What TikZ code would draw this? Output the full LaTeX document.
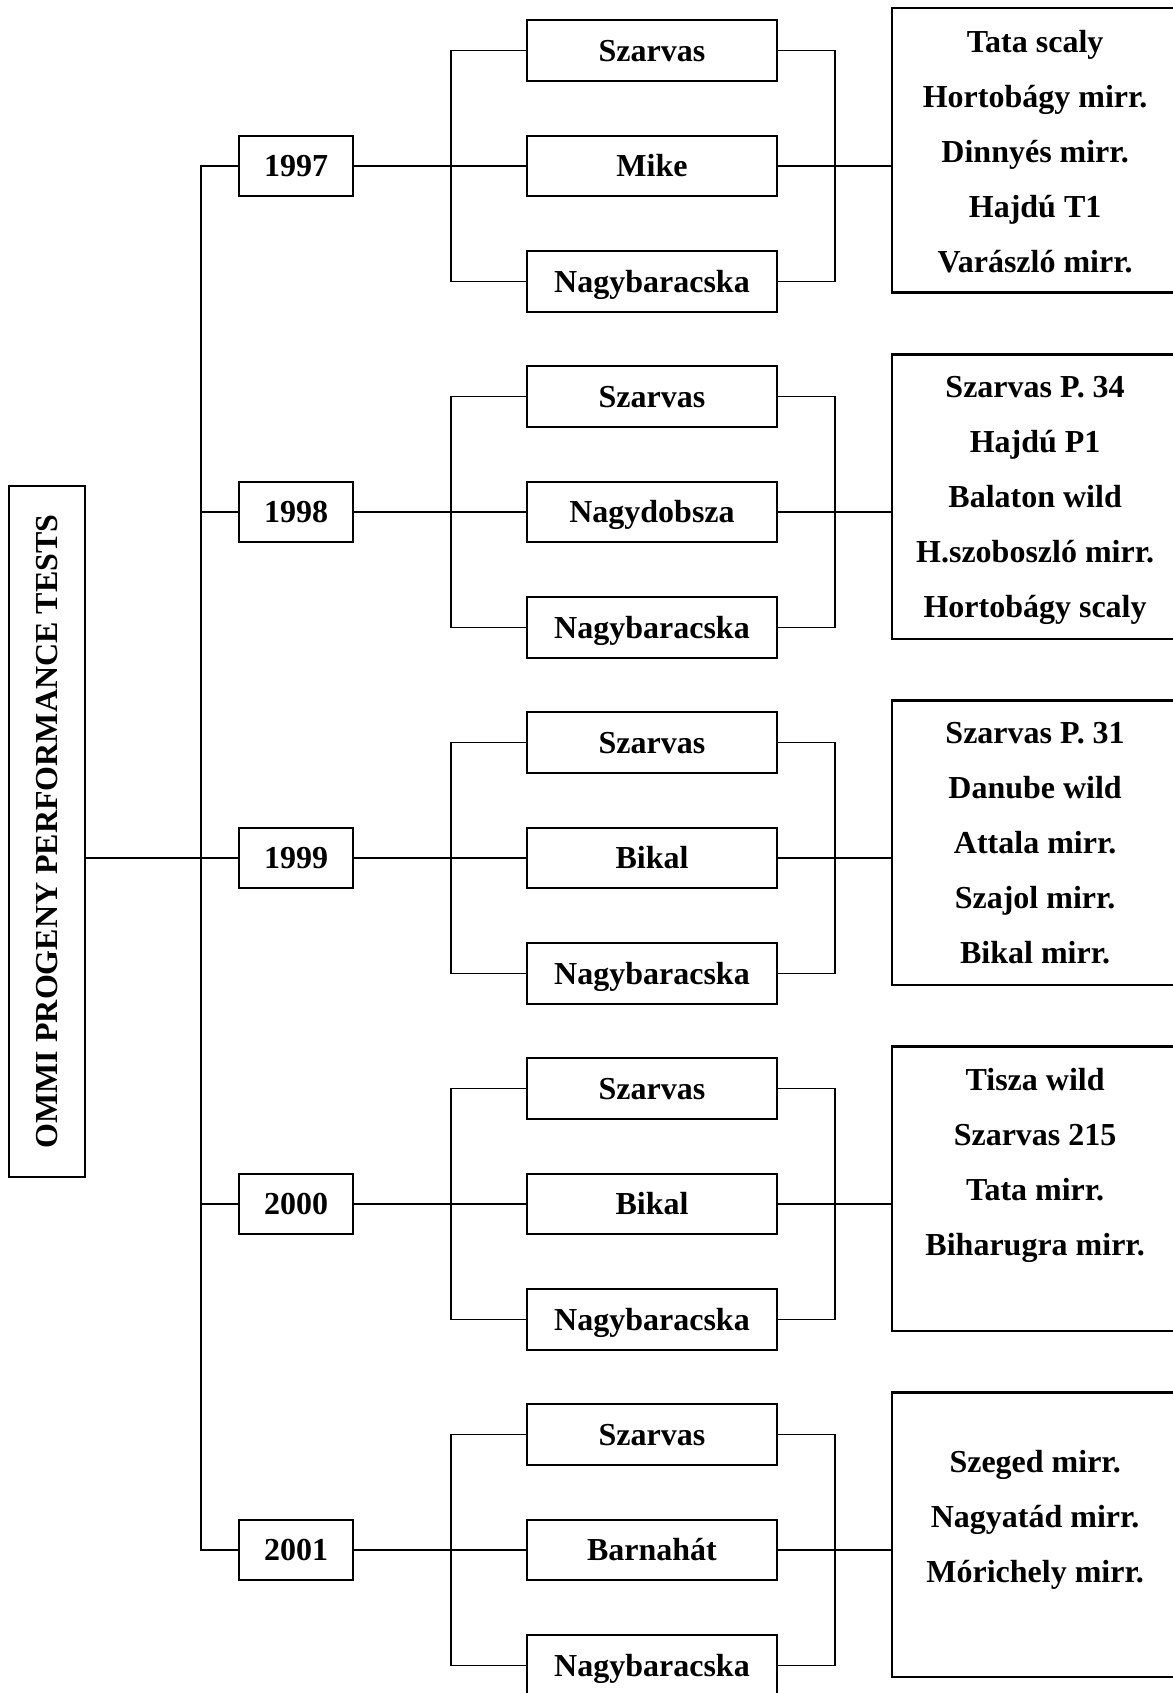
\documentclass[tikz,border=0pt]{standalone}
\usepackage{fontspec}
\setmainfont{Liberation Serif}
\usetikzlibrary{positioning}

\begin{document}
\begin{tikzpicture}
    [x=1pt, y=1pt, grow'=right,
    every node/.style={font=\bfseries\fontsize{32}{55}\selectfont},
    box/.style={draw, line width=2pt, inner sep=0pt, text height=21.5pt, text depth=0pt},
    year/.style={box, minimum width=114.5pt, minimum height=60.5pt},
    site/.style={box, minimum width=249.7pt, minimum height=60.5pt},
    strain/.style={draw, line width=2.5pt, minimum width=286pt, minimum height=284.5pt},
    strains/.style={align=center, inner sep=0pt},
    link/.style={line width=1.6pt},
    edge from parent/.style={draw, link},
    level 1/.style={sibling distance=346pt, level distance=95pt,
      edge from parent path={(\tikzparentnode) |- (\tikzchildnode.west)}},
    level 2/.style={sibling distance=115.5pt, level distance=356pt,
      edge from parent path={(\tikzparentnode.east) -- ++(97,0) |- (\tikzchildnode.west)}}]
    \useasboundingbox (0,0) rectangle (1172,-1693);
    \node[box, rotate=90, minimum width=691pt, minimum height=76.7pt] (title) at (47,-831.5)
      {OMMI PROGENY PERFORMANCE TESTS};
    \node[coordinate] (spine) at (201,-858) {}
    child { node[year] (y97) {1997}
      child {node[site] (s97) {Szarvas}}
      child {node[site] (m97) {Mike}}
      child {node[site] (n97) {Nagybaracska}}
    }
    child { node[year] (y98) {1998}
      child {node[site] (s98) {Szarvas}}
      child {node[site] (m98) {Nagydobsza}}
      child {node[site] (n98) {Nagybaracska}}
    }
    child { node[year] (y99) {1999}
      child {node[site] (s99) {Szarvas}}
      child {node[site] (m99) {Bikal}}
      child {node[site] (n99) {Nagybaracska}}
    }
    child { node[year] (y00) {2000}
      child {node[site] (s00) {Szarvas}}
      child {node[site] (m00) {Bikal}}
      child {node[site] (n00) {Nagybaracska}}
    }
    child { node[year] (y01) {2001}
      child {node[site] (s01) {Szarvas}}
      child {node[site] (m01) {Barnahát}}
      child {node[site] (n01) {Nagybaracska}}
    };
    \draw[link] (title.south |- spine) -- (spine);

    \node[strain, right=113pt of m97, yshift=15.5pt] (b97) {};
    \node[strains, below=23pt of b97.north] (t97)
      {Tata scaly\\Hortobágy mirr.\\Dinnyés mirr.\\Hajdú T1\\Varászló mirr.};
    \draw[link] (s97.east) -- ++(57.3,0) |- (n97.east) (m97.east) -- (b97.west |- m97.east);

    \node[strain, right=113pt of m98, yshift=15.5pt] (b98) {};
    \node[strains, below=23pt of b98.north] (t98)
      {Szarvas P. 34\\Hajdú P1\\Balaton wild\\H.szoboszló mirr.\\Hortobágy scaly};
    \draw[link] (s98.east) -- ++(57.3,0) |- (n98.east) (m98.east) -- (b98.west |- m98.east);

    \node[strain, right=113pt of m99, yshift=15.5pt] (b99) {};
    \node[strains, below=23pt of b99.north] (t99)
      {Szarvas P. 31\\Danube wild\\Attala mirr.\\Szajol mirr.\\Bikal mirr.};
    \draw[link] (s99.east) -- ++(57.3,0) |- (n99.east) (m99.east) -- (b99.west |- m99.east);

    \node[strain, right=113pt of m00, yshift=15.5pt] (b00) {};
    \node[strains, below=23pt of b00.north] (t00)
      {Tisza wild\\Szarvas 215\\Tata mirr.\\Biharugra mirr.};
    \draw[link] (s00.east) -- ++(57.3,0) |- (n00.east) (m00.east) -- (b00.west |- m00.east);

    \node[strain, right=113pt of m01, yshift=15.5pt] (b01) {};
    \node[strains, below=59pt of b01.north] (t01)
      {Szeged mirr.\\Nagyatád mirr.\\Mórichely mirr.};
    \draw[link] (s01.east) -- ++(57.3,0) |- (n01.east) (m01.east) -- (b01.west |- m01.east);
  \end{tikzpicture}
\end{document}
